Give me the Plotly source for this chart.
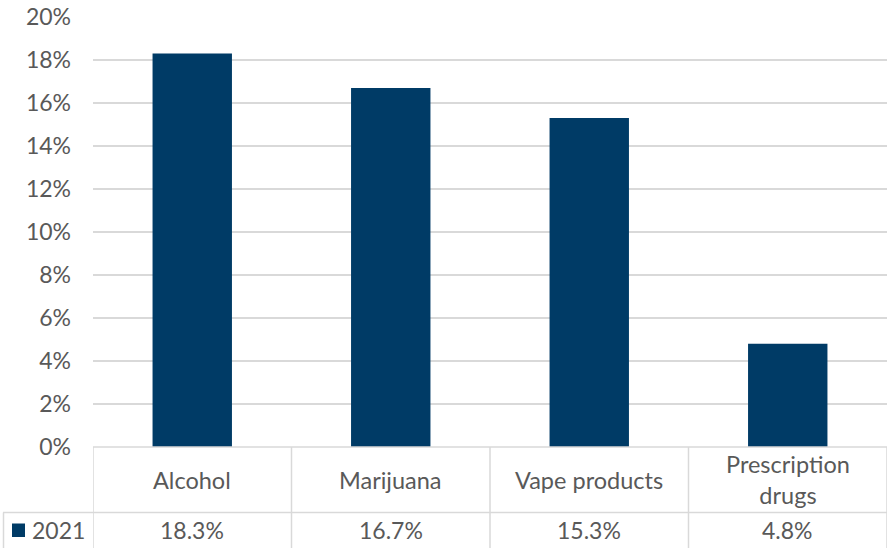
import plotly.graph_objects as go

categories = ["Alcohol", "Marijuana", "Vape products", "Prescription<br>drugs"]
values_2021 = [18.3, 16.7, 15.3, 4.8]
series_name = "2021"
value_labels = ["18.3%", "16.7%", "15.3%", "4.8%"]
y_ticks = [0, 2, 4, 6, 8, 10, 12, 14, 16, 18, 20]

W, H = 889, 548
BAR = "#003b66"
GRID = "#d9d9d9"
TXT = "#595959"
FONT = "Lato"
CAT_SIZE = 23.5
NUM_SIZE = 23

def py(pix):
    return (H - pix) / H

def px(pix):
    return pix / W

fig = go.Figure()
fig.add_trace(go.Bar(x=list(range(len(categories))), y=values_2021,
                     marker=dict(color=BAR, line=dict(width=0)),
                     name=series_name, showlegend=False, hoverinfo="skip"))

shapes = []
# table grid
shapes.append(dict(type="line", xref="x", yref="paper", x0=-0.5, x1=len(categories) - 0.5,
                   y0=py(447), y1=py(447), line=dict(color=GRID, width=1.5)))
shapes.append(dict(type="line", xref="paper", yref="paper", x0=px(3), x1=px(887),
                   y0=py(512.5), y1=py(512.5), line=dict(color=GRID, width=1.5)))
for i in range(len(categories) + 1):
    shapes.append(dict(type="line", xref="x", yref="paper", x0=i - 0.5, x1=i - 0.5,
                       y0=py(447), y1=py(549), line=dict(color=GRID, width=1.5)))
shapes.append(dict(type="line", xref="paper", yref="paper", x0=px(3.5), x1=px(3.5),
                   y0=py(512.5), y1=py(549), line=dict(color=GRID, width=1.5)))
# legend key
shapes.append(dict(type="rect", xref="paper", yref="paper", x0=px(12), x1=px(25),
                   y0=py(537), y1=py(523.5), fillcolor=BAR, line=dict(width=0)))

annotations = []
for i, c in enumerate(categories):
    annotations.append(dict(x=i, y=py(479.5), xref="x", yref="paper", text=c,
                            showarrow=False, xanchor="center", yanchor="middle",
                            font=dict(family=FONT, size=CAT_SIZE, color=TXT)))
    annotations.append(dict(x=i, y=py(530), xref="x", yref="paper", text=value_labels[i],
                            showarrow=False, xanchor="center", yanchor="middle",
                            font=dict(family=FONT, size=NUM_SIZE, color=TXT)))
annotations.append(dict(x=px(30), y=py(530), xref="paper", yref="paper", text=series_name,
                        showarrow=False, xanchor="left", yanchor="middle",
                        font=dict(family=FONT, size=NUM_SIZE, color=TXT)))

fig.update_layout(
    width=W, height=H, autosize=False,
    margin=dict(l=0, r=0, t=0, b=0, autoexpand=False),
    paper_bgcolor="white", plot_bgcolor="white",
    bargap=0.6,
    font=dict(family=FONT, size=NUM_SIZE, color=TXT),
    xaxis=dict(domain=[px(93), px(887)], range=[-0.5, len(categories) - 0.5],
               showticklabels=False, showgrid=False, zeroline=False, showline=False,
               fixedrange=True, automargin=False),
    yaxis=dict(domain=[py(447), py(17)], range=[0, 20], tickvals=y_ticks,
               ticktext=[f"{v}%" for v in y_ticks], showgrid=True, gridcolor=GRID,
               gridwidth=1.5, zeroline=False, showline=False, ticks="",
               automargin=False, fixedrange=True,
               ticklabelstandoff=21, tickfont=dict(family=FONT, size=NUM_SIZE, color=TXT)),
    shapes=shapes, annotations=annotations,
)

fig.write_html("out.html", config={"displayModeBar": False},
               post_script="document.body.style.margin='0';document.body.style.overflow='hidden';")
